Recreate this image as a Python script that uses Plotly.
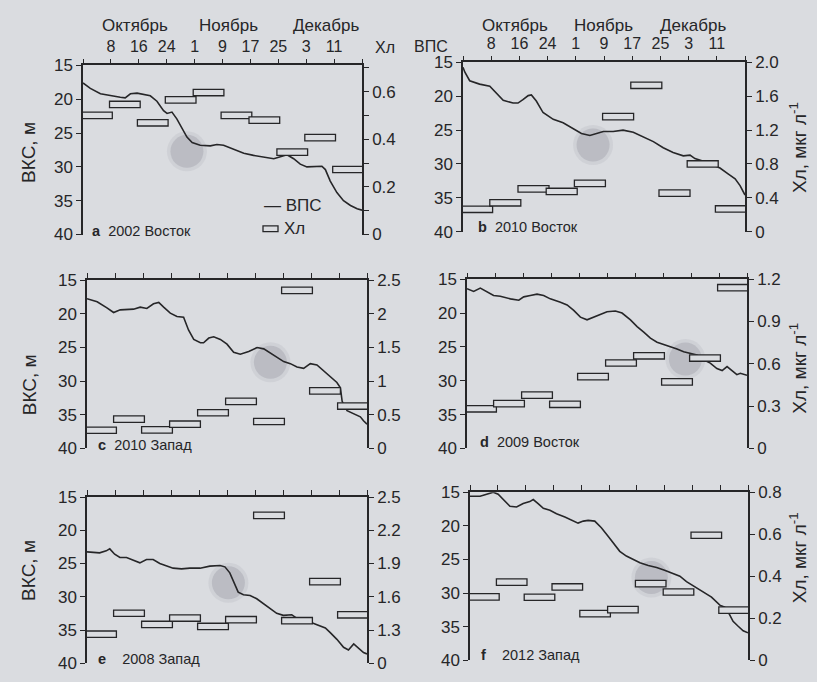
import plotly.graph_objects as go

# ---------------------------------------------------------------- data
# Day axis: days since 30 September, ticks every 8 days (30 Sep .. 19 Dec)
TICK_DAYS = [8, 16, 24, 32, 40, 48, 56, 64, 72]
TICK_TEXT = ["8", "16", "24", "1", "9", "17", "25", "3", "11"]
EDGE_DAYS = [0, 80]
MONTHS = ["Октябрь", "Ноябрь", "Декабрь"]

# 8-day chlorophyll composites (start day of each interval)
BOX_START = [0, 8, 16, 24, 32, 40, 48, 56, 64, 72]

# a: 2002 Восток
a_day = [0, 2.1, 5.0, 7.8, 10.7, 12.1, 13.6, 15.5, 17.4, 19.3, 21.2, 23.1, 24.1, 25.5, 26.9, 28.4,
         29.8, 31.3, 33.6, 36.5, 38.4, 40.3, 43.2, 46.1, 48.9, 51.8, 54.7, 56.6, 58.5, 60.4, 62.3,
         64.2, 66.1, 68.5, 69.5, 70.9, 72.8, 74.7, 76.7, 78.6, 80]
a_mld = [17.6, 18.4, 19.2, 19.5, 19.7, 19.8, 19.2, 19.1, 19.3, 19.5, 20.3, 21.7, 22.1, 21.9, 22.9, 24.4,
         25.6, 26.4, 26.8, 26.9, 26.7, 26.8, 27.4, 28.0, 28.3, 28.6, 28.8, 28.5, 28.2, 28.8, 29.6,
         30.0, 30.0, 29.9, 30.4, 32.1, 33.8, 35.0, 35.7, 36.2, 36.4]
a_chl = [0.50, 0.546, 0.469, 0.565, 0.596, 0.50, 0.48, 0.346, 0.407, 0.273]

# b: 2010 Восток
b_day = [0, 0.5, 1.9, 4.7, 7.6, 9.5, 11.4, 14.2, 15.6, 17.0, 18.5, 19.4, 20.8, 22.7, 25.6, 28.4,
         31.2, 33.6, 36.0, 37.9, 39.8, 42.6, 45.4, 48.3, 51.1, 54.0, 56.8, 59.6, 62.5, 64.4, 65.8,
         68.2, 71.0, 72.9, 75.3, 77.2, 78.6, 80]
b_mld = [15.7, 16.4, 17.7, 18.2, 18.5, 19.6, 20.6, 21.0, 21.0, 20.5, 19.9, 19.8, 20.7, 22.4, 23.4, 23.9,
         24.8, 25.5, 25.8, 25.5, 25.2, 25.2, 25.0, 25.3, 26.0, 26.7, 27.6, 28.3, 28.8, 28.7, 29.2,
         29.6, 30.2, 30.6, 31.5, 32.2, 33.2, 34.6]
b_chl = [0.264, 0.341, 0.506, 0.475, 0.571, 1.36, 1.73, 0.455, 0.80, 0.268]

# c: 2010 Запад
c_day = [0, 2.9, 5.7, 7.6, 9.5, 11.4, 13.3, 15.2, 17.1, 19.0, 20.5, 21.9, 23.8, 25.7, 27.6, 29.0,
         30.5, 32.4, 33.3, 34.8, 36.2, 38.1, 40.0, 41.9, 43.8, 46.2, 48.6, 50.5, 52.4, 54.3, 56.2,
         58.1, 60.0, 61.9, 63.8, 65.7, 67.6, 69.5, 71.4, 72.4, 72.9, 74.3, 76.2, 78.1, 79.0, 80]
c_mld = [17.75, 18.2, 19.1, 19.8, 19.4, 19.3, 19.3, 19.0, 19.2, 18.5, 18.3, 19.0, 19.9, 20.4, 20.5, 22.4,
         23.8, 24.3, 24.3, 23.6, 23.4, 23.8, 24.5, 25.7, 26.0, 25.6, 25.0, 25.2, 25.8, 26.4, 27.1,
         27.4, 27.9, 28.1, 27.4, 27.6, 28.5, 29.3, 30.2, 31.0, 33.0, 34.4, 34.9, 35.3, 35.9, 36.4]
c_chl = [0.27, 0.435, 0.276, 0.36, 0.53, 0.70, 0.40, 2.35, 0.856, 0.63]

# d: 2009 Восток
d_day = [0, 1.9, 3.8, 5.7, 7.6, 9.5, 12.4, 14.8, 16.2, 18.1, 20.0, 21.9, 23.8, 26.7, 28.6, 30.5,
         32.4, 34.3, 36.2, 38.1, 40.0, 42.4, 44.3, 46.7, 48.6, 50.5, 52.4, 54.3, 56.2, 58.1, 60.0,
         61.9, 63.8, 65.7, 67.6, 69.5, 71.4, 72.9, 74.3, 75.7, 77.1, 78.1, 80]
d_mld = [16.4, 16.8, 16.3, 16.9, 17.4, 17.5, 17.9, 18.1, 17.6, 17.4, 17.2, 17.4, 17.9, 18.4, 18.8, 19.6,
         20.6, 21.0, 20.6, 20.3, 19.8, 19.7, 20.0, 21.0, 22.0, 22.8, 23.7, 24.3, 24.6, 25.0, 25.3,
         25.7, 25.9, 26.2, 26.9, 27.4, 28.2, 28.5, 27.9, 28.5, 29.1, 28.9, 29.2]
d_chl = [0.281, 0.318, 0.378, 0.313, 0.509, 0.606, 0.657, 0.472, 0.641, 1.14]

# e: 2008 Запад
e_day = [0, 3.6, 5.5, 6.5, 7.9, 9.4, 11.3, 13.2, 15.1, 17.0, 18.9, 20.8, 22.7, 24.6, 27.0, 29.4,
         32.3, 35.1, 38.0, 39.4, 40.8, 42.3, 43.2, 44.7, 46.6, 48.5, 50.4, 52.3, 54.2, 56.1, 58.5,
         60.4, 62.8, 65.7, 68.1, 69.5, 71.4, 73.3, 74.7, 76.2, 77.6, 79.0, 80]
e_mld = [23.25, 23.4, 23.1, 22.8, 23.6, 24.1, 24.1, 24.5, 24.9, 24.4, 24.4, 25.0, 25.4, 25.7, 25.8, 25.7,
         25.7, 25.4, 25.3, 25.5, 26.4, 28.1, 29.3, 29.7, 29.8, 30.3, 31.0, 31.7, 32.5, 32.8, 32.7,
         33.4, 33.6, 34.2, 34.7, 35.4, 36.4, 37.6, 38.0, 37.1, 37.7, 38.4, 38.6]
e_chl = [1.262, 1.451, 1.35, 1.408, 1.332, 1.393, 2.334, 1.384, 1.737, 1.437]

# f: 2012 Запад
f_day = [0, 2.9, 4.8, 6.7, 8.1, 9.6, 11.5, 13.4, 15.3, 17.2, 18.2, 19.6, 21.1, 23.0, 24.9, 27.3,
         29.7, 31.1, 32.6, 34.0, 35.9, 37.8, 39.8, 41.7, 43.1, 45.0, 47.0, 48.9, 51.3, 53.7, 56.0,
         58.4, 60.4, 62.3, 64.7, 67.1, 69.5, 71.9, 73.3, 74.7, 75.7, 77.1, 78.6, 80]
f_mld = [15.6, 15.6, 15.3, 15.0, 15.3, 16.1, 17.1, 17.2, 16.7, 16.4, 16.1, 16.7, 17.4, 17.7, 18.2, 18.7,
         19.2, 19.6, 19.3, 19.2, 19.3, 20.3, 21.6, 22.9, 23.8, 24.5, 25.0, 25.5, 25.9, 26.2, 26.6,
         27.1, 27.5, 28.3, 29.1, 29.9, 30.6, 31.8, 32.1, 33.2, 34.2, 34.9, 35.6, 35.9]
f_chl = [0.302, 0.372, 0.300, 0.349, 0.222, 0.241, 0.365, 0.325, 0.595, 0.239]

# highlighted spots (day, depth)
spot_day = {"a": 29.8, "b": 36.9, "c": 52.4, "d": 62.4, "e": 40.4, "f": 52.2}
spot_mld = {"a": 27.7, "b": 27.2, "c": 27.2, "d": 26.8, "e": 27.9, "f": 27.7}

# right-axis scales: (labelled ticks, labels, unlabelled ticks, range)
chl_ticks = {
    "a": ([0, 0.2, 0.4, 0.6], ["0", "0.2", "0.4", "0.6"], [0.1, 0.3, 0.5, 0.7], [0, 0.71]),
    "b": ([0, 0.4, 0.8, 1.2, 1.6, 2.0], ["0", "0.4", "0.8", "1.2", "1.6", "2.0"], [], [0, 2.0]),
    "c": ([0, 0.5, 1, 1.5, 2, 2.5], ["0", "0.5", "1", "1.5", "2", "2.5"], [], [0, 2.5]),
    "d": ([0, 0.3, 0.6, 0.9, 1.2], ["0", "0.3", "0.6", "0.9", "1.2"], [], [0, 1.2]),
    "e": ([1.0, 1.3, 1.6, 1.9, 2.2, 2.5], ["0", "1.3", "1.6", "1.9", "2.2", "2.5"], [], [1.0, 2.5]),
    "f": ([0, 0.2, 0.4, 0.6, 0.8], ["0", "0.2", "0.4", "0.6", "0.8"], [], [0, 0.8]),
}

panels = [
    ("a", "2002 Восток", a_day, a_mld, a_chl),
    ("b", "2010 Восток", b_day, b_mld, b_chl),
    ("c", "2010 Запад", c_day, c_mld, c_chl),
    ("d", "2009 Восток", d_day, d_mld, d_chl),
    ("e", "2008 Запад", e_day, e_mld, e_chl),
    ("f", "2012 Запад", f_day, f_mld, f_chl),
]

# ---------------------------------------------------------------- layout
W, H = 817, 682
BG = "#dadce0"
INK = "#262628"
FONT = "Liberation Sans, Arial, sans-serif"
TICK_SIZE = 16

# plot-area boxes in pixels: (left, right, top, bottom)
boxes_px = {
    "a": (83, 362, 58, 232),
    "b": (463, 745, 55, 229),
    "c": (87, 367, 279, 452),
    "d": (467, 747, 278, 452),
    "e": (87, 367, 502, 673),
    "f": (470, 748, 497, 670),
}

BOX_PX = 6.6      # rectangle height in pixels
BOX_W = 8.8       # rectangle width in days

fig = go.Figure()
layout = dict(
    width=W, height=H, margin=dict(l=0, r=0, t=0, b=0),
    paper_bgcolor=BG, plot_bgcolor=BG, showlegend=False, barmode="overlay",
    font=dict(family=FONT, size=15, color=INK),
)
annotations = []
shapes = []

for i, (key, title, days, mld, chl) in enumerate(panels):
    l, r, t, b = boxes_px[key]
    xd = [l / W, r / W]
    yd = [1 - b / H, 1 - t / H]
    xn = "x" if i == 0 else f"x{i + 1}"
    yl = f"y{2 * i + 1}" if i else "y"
    yr = f"y{2 * i + 2}"
    xa = "xaxis" if i == 0 else f"xaxis{i + 1}"
    yla = "yaxis" if i == 0 else f"yaxis{2 * i + 1}"
    yra = f"yaxis{2 * i + 2}"
    top_row = key in ("a", "b")

    layout[xa] = dict(
        domain=xd, anchor=yl, side="top", range=[0, 80],
        tickmode="array", tickvals=TICK_DAYS, ticktext=TICK_TEXT,
        minor=dict(tickmode="array", tickvals=EDGE_DAYS, ticks="outside",
                   ticklen=5, tickwidth=1.3, tickcolor=INK, showgrid=False),
        showticklabels=top_row, ticks="outside", ticklen=5, tickwidth=1.3,
        tickcolor=INK, showline=True, linecolor=INK, linewidth=1.5,
        showgrid=False, zeroline=False, tickfont=dict(size=TICK_SIZE),
    )
    layout[yla] = dict(
        domain=yd, anchor=xn, range=[40, 15], tickmode="array",
        tickvals=[15, 20, 25, 30, 35, 40], ticks="outside", ticklen=5, tickwidth=1.3,
        tickcolor=INK, showline=True, linecolor=INK, linewidth=1.5,
        showgrid=False, zeroline=False, tickfont=dict(size=17),
    )
    tv, tt, mv, rng = chl_ticks[key]
    right = dict(
        overlaying=yl, anchor=xn, side="right", range=rng, tickmode="array",
        tickvals=tv, ticktext=tt, ticks="outside", ticklen=5, tickwidth=1.3,
        tickcolor=INK, showline=True, linecolor=INK, linewidth=1.5,
        showgrid=False, zeroline=False, tickfont=dict(size=17),
    )
    if mv:
        right["minor"] = dict(tickmode="array", tickvals=mv, ticks="outside",
                              ticklen=5, tickwidth=1.3, tickcolor=INK, showgrid=False)
    layout[yra] = right

    # shaded spot
    fig.add_trace(go.Scatter(
        x=[spot_day[key]], y=[spot_mld[key]], xaxis=xn, yaxis=yl, mode="markers",
        marker=dict(size=40, color="rgba(150,150,160,0.15)", line=dict(width=0)),
        hoverinfo="skip"))
    fig.add_trace(go.Scatter(
        x=[spot_day[key]], y=[spot_mld[key]], xaxis=xn, yaxis=yl, mode="markers",
        marker=dict(size=33, color="rgba(150,150,160,0.35)", line=dict(width=0)),
        hoverinfo="skip"))

    # mixed-layer depth line
    fig.add_trace(go.Scatter(
        x=days, y=mld, xaxis=xn, yaxis=yl, mode="lines",
        line=dict(color=INK, width=1.6), name="ВПС"))

    # chlorophyll rectangles
    h = BOX_PX / (b - t) * (rng[1] - rng[0])
    fig.add_trace(go.Bar(
        x=[s + 4 for s in BOX_START], y=[h] * len(chl), base=[v - h / 2 for v in chl],
        width=BOX_W, xaxis=xn, yaxis=yr, name="Хл",
        marker=dict(color=BG, line=dict(color=INK, width=1.3))))

    # panel caption
    cap_y = {"a": 228, "b": 224, "c": 449, "d": 445, "e": 669, "f": 664}[key]
    cap_x = {"a": 90, "b": 476, "c": 96, "d": 478, "e": 96, "f": 479}[key]
    gap = "&nbsp;&nbsp;&nbsp;&nbsp;" if key in ("e", "f") else "&nbsp;&nbsp;"
    annotations.append(dict(
        x=cap_x / W, y=1 - cap_y / H, xref="paper", yref="paper",
        xanchor="left", yanchor="middle", showarrow=False,
        text=f"<b>{key}</b>{gap}{title}", font=dict(size=14.5, color=INK)))

    if top_row:
        month_x = {"a": [135, 228, 326], "b": [515, 603, 693]}[key]
        for mx, mname in zip(month_x, MONTHS):
            annotations.append(dict(
                x=mx / W, y=1 - 17 / H, xref="paper", yref="paper",
                xanchor="center", yanchor="middle", showarrow=False,
                text=mname, font=dict(size=17, color=INK)))

# axis titles
for cy in (148, 387, 578):
    annotations.append(dict(
        x=29 / W, y=1 - cy / H, xref="paper", yref="paper", textangle=-90,
        xanchor="center", yanchor="middle", showarrow=False,
        text="ВКС, м", font=dict(size=19, color=INK)))
for cy in (143, 370, 565):
    annotations.append(dict(
        x=798 / W, y=1 - cy / H, xref="paper", yref="paper", textangle=-90,
        xanchor="center", yanchor="middle", showarrow=False,
        text="Хл, мкг л<sup>-1</sup>", font=dict(size=19, color=INK)))

annotations.append(dict(x=373 / W, y=1 - 40 / H, xref="paper", yref="paper",
                        xanchor="left", yanchor="middle", showarrow=False,
                        text="Хл", font=dict(size=16, color=INK)))
annotations.append(dict(x=412 / W, y=1 - 39 / H, xref="paper", yref="paper",
                        xanchor="left", yanchor="middle", showarrow=False,
                        text="ВПС", font=dict(size=16, color=INK)))

# key for panel a
annotations.append(dict(x=262 / W, y=1 - 202 / H, xref="paper", yref="paper",
                        xanchor="left", yanchor="middle", showarrow=False,
                        text="— ВПС", font=dict(size=17, color=INK)))
annotations.append(dict(x=282 / W, y=1 - 226 / H, xref="paper", yref="paper",
                        xanchor="left", yanchor="middle", showarrow=False,
                        text="Хл", font=dict(size=17, color=INK)))
shapes.append(dict(type="rect", xref="paper", yref="paper",
                   x0=263 / W, x1=278 / W, y0=1 - 229 / H, y1=1 - 223 / H,
                   line=dict(color=INK, width=1.3), fillcolor=BG))

layout["annotations"] = annotations
layout["shapes"] = shapes
fig.update_layout(**layout)

fig.write_html("out.html")
